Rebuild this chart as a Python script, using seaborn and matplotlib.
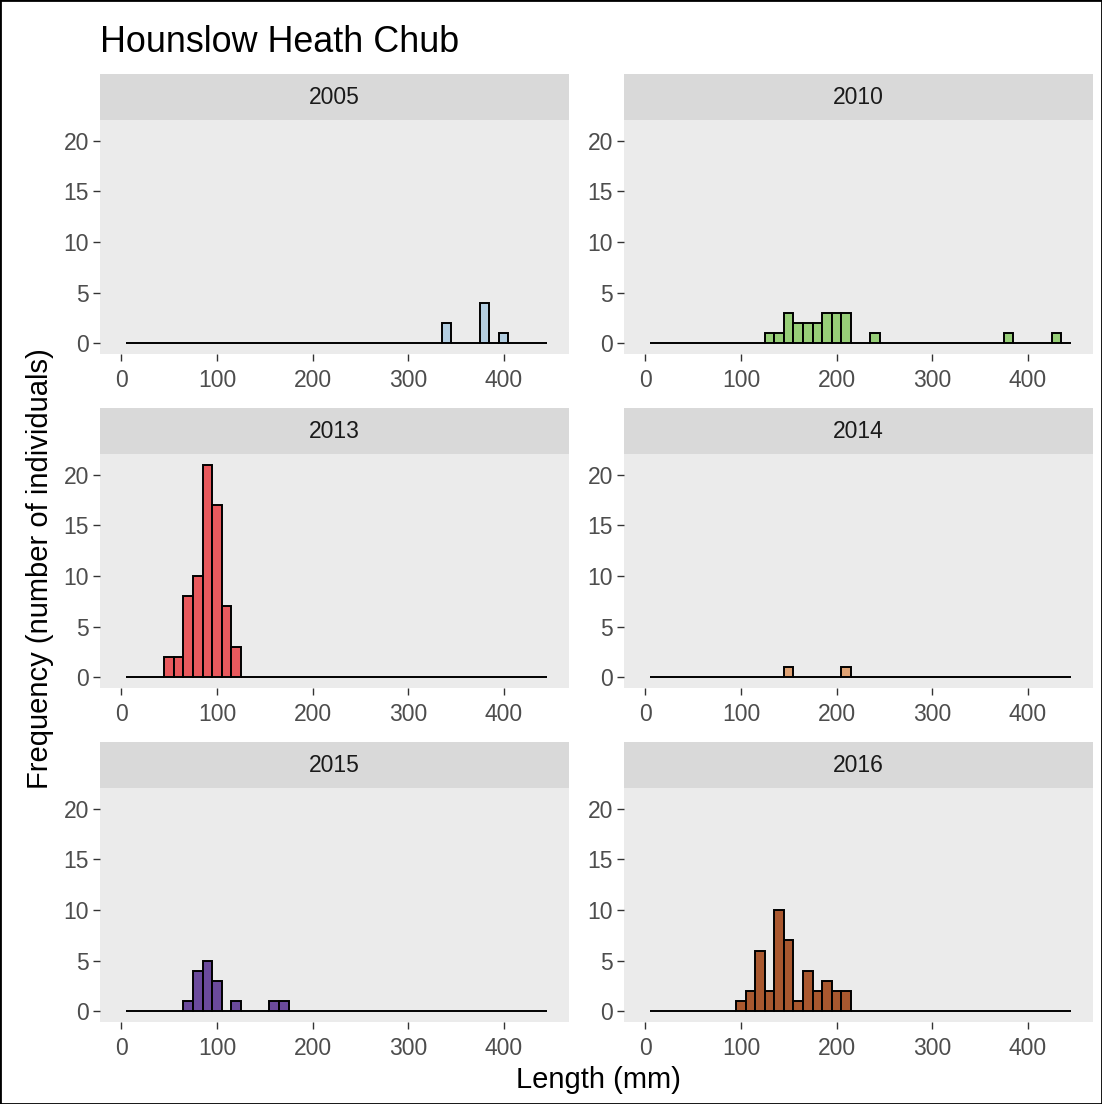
import numpy as np
import pandas as pd
import matplotlib
matplotlib.use("Agg")
import matplotlib.pyplot as plt
from matplotlib.patches import Rectangle
import seaborn as sns

sns.set_theme(style="white")
plt.rcParams["font.family"] = ["Liberation Sans", "DejaVu Sans"]

# Length-frequency data per survey year: bin centre (mm) and number of fish
years = ["2005", "2010", "2013", "2014", "2015", "2016"]

len_2005 = [340, 380, 400]
n_2005 = [2, 4, 1]

len_2010 = [130, 140, 150, 160, 170, 180, 190, 200, 210, 240, 380, 430]
n_2010 = [1, 1, 3, 2, 2, 2, 3, 3, 3, 1, 1, 1]

len_2013 = [50, 60, 70, 80, 90, 100, 110, 120]
n_2013 = [2, 2, 8, 10, 21, 17, 7, 3]

len_2014 = [150, 210]
n_2014 = [1, 1]

len_2015 = [70, 80, 90, 100, 120, 160, 170]
n_2015 = [1, 4, 5, 3, 1, 1, 1]

len_2016 = [100, 110, 120, 130, 140, 150, 160, 170, 180, 190, 200, 210]
n_2016 = [1, 2, 6, 2, 10, 7, 1, 4, 2, 3, 2, 2]

lengths = [len_2005, len_2010, len_2013, len_2014, len_2015, len_2016]
counts = [n_2005, n_2010, n_2013, n_2014, n_2015, n_2016]
fills = ["#B3CEE1", "#97CE78", "#E8595D", "#DFA274", "#6B4A9C", "#A9582F"]

# 10 mm bins shared by all panels
bin_edges = [float(e) for e in np.arange(5, 446, 10)]
x_ticks = [0, 100, 200, 300, 400]
y_ticks = [0, 5, 10, 15, 20]

W, H = 1102, 1104
fig = plt.figure(figsize=(W / 100, H / 100), dpi=100)
fig.patch.set_facecolor("white")


def box(x0, y0, x1, y1):
    return [x0 / W, 1 - y1 / H, (x1 - x0) / W, (y1 - y0) / H]


col_x = [(100, 569), (624, 1093)]
row_top = [120, 454, 788]
strip_h = 46
panel_h = 234

for i, year in enumerate(years):
    col, row = i % 2, i // 2
    x0, x1 = col_x[col]
    top = row_top[row]
    df = pd.DataFrame({"length": lengths[i], "n": counts[i]})
    ax = fig.add_axes(box(x0, top, x1, top + panel_h))
    sns.histplot(data=df, x="length", weights="n", bins=bin_edges, ax=ax,
                 color=fills[i], edgecolor="black", linewidth=1.4, alpha=1)
    ax.set_xlim(-22.3, 468.3)
    ax.set_ylim(-1.05, 22.05)
    ax.set_facecolor("#EBEBEB")
    for s in ax.spines.values():
        s.set_visible(False)
    ax.set_xticks(x_ticks)
    ax.set_yticks(y_ticks)
    ax.tick_params(axis="both", length=5, width=1.0, color="#333333",
                   labelcolor="#4D4D4D", labelsize=16.5, pad=3,
                   bottom=True, left=True)
    ax.tick_params(axis="x", pad=5.5)
    ax.set_xlabel("")
    ax.set_ylabel("")
    ax.grid(False)

    sax = fig.add_axes(box(x0, top - strip_h, x1, top))
    sax.set_facecolor("#D9D9D9")
    sax.set_xticks([])
    sax.set_yticks([])
    for s in sax.spines.values():
        s.set_visible(False)
    sax.text(0.5, 0.48, year, ha="center", va="center", fontsize=16.5,
             color="#1A1A1A", transform=sax.transAxes)

fig.text(100 / W, 1 - 42 / H, "Hounslow Heath Chub", ha="left", va="center",
         fontsize=25.8, color="black")
fig.text(598 / W, 1 - 1080 / H, "Length (mm)", ha="center", va="center",
         fontsize=21, color="black")
fig.text(40 / W, 1 - 569 / H, "Frequency (number of individuals)",
         ha="center", va="center", rotation=90, fontsize=21, color="black")

fig.add_artist(Rectangle((0, 0), 1, 1, transform=fig.transFigure, fill=False,
                         edgecolor="black", linewidth=2))

fig.savefig("out.png", dpi=100, facecolor="white")
